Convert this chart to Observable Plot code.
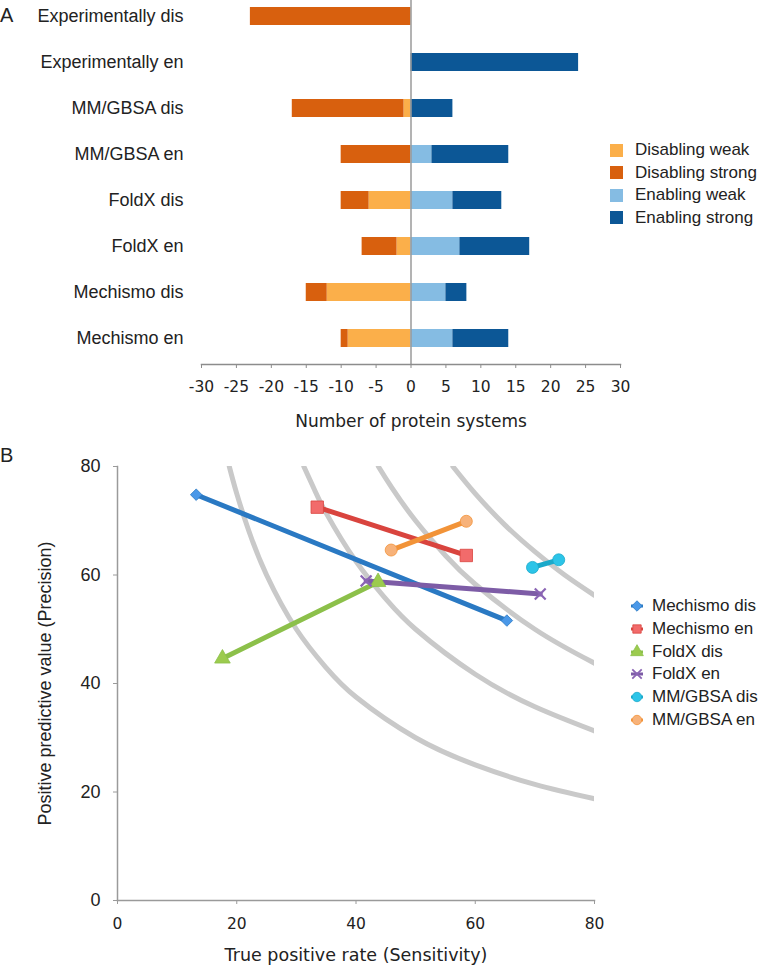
<!DOCTYPE html>
<html><head><meta charset="utf-8">
<script src="https://cdn.jsdelivr.net/npm/d3@7"></script>
<script src="https://cdn.jsdelivr.net/npm/@observablehq/plot@0.6"></script>
<style>
body{margin:0;background:#fff;}
#root{position:relative;width:766px;height:968px;overflow:hidden;font-family:"Liberation Sans",Arial,Helvetica,sans-serif;color:#222;}
.panel{position:absolute;font-size:20px;line-height:1;}
.leg{position:absolute;display:flex;align-items:center;white-space:nowrap;font-size:17px;}
</style></head><body><div id="root"></div>
<script>
// ---------- Panel A data ----------
const categories = ["Experimentally dis","Experimentally en","MM/GBSA dis","MM/GBSA en","FoldX dis","FoldX en","Mechismo dis","Mechismo en"];
const disablingWeak   = [0, 0, 1, 0, 6, 2, 12, 9];
const disablingStrong = [23, 0, 16, 10, 4, 5, 3, 1];
const enablingWeak    = [0, 0, 0, 3, 6, 7, 5, 6];
const enablingStrong  = [0, 24, 6, 11, 7, 10, 3, 8];
const barTypes  = ["Disabling weak","Disabling strong","Enabling weak","Enabling strong"];
const barColors = ["#FBAF4A","#D8600E","#85BCE3","#0C5796"];
const xTicksA = [-30,-25,-20,-15,-10,-5,0,5,10,15,20,25,30];

// ---------- Panel B data ----------
const seriesB = ["Mechismo dis","Mechismo en","FoldX dis","FoldX en","MM/GBSA dis","MM/GBSA en"];
const tprStart = [13.2, 33.5, 17.6, 41.7, 69.6, 45.9];
const ppvStart = [74.8, 72.5, 44.6, 58.9, 61.4, 64.6];
const tprEnd   = [65.3, 58.5, 43.7, 70.9, 74.0, 58.5];
const ppvEnd   = [51.6, 63.6, 58.7, 56.5, 62.8, 69.9];
const lineColorsB   = ["#2A79C3","#D9443E","#8CC04A","#7D5CA6","#1AA9CA","#F29338"];
const markerColorsB = ["#4A98E8","#F26B6B","#9CCB4E","#8A64B4","#2CC4E8","#F7B27A"];
const symbolsB = ["diamond2","square","triangle","times","circle","circle"];
const ticksB = [0,20,40,60,80];
// grey reference curves
const iso1_tpr = [18.75, 20, 22, 25, 30, 35, 40, 50, 60, 70, 80];
const iso1_ppv = [80, 75, 68.2, 60, 50, 42.9, 37.5, 30, 25, 21.4, 18.75];
const iso2_tpr = [31.25, 33, 35, 40, 45, 50, 60, 70, 80];
const iso2_ppv = [80, 75.8, 71.4, 62.5, 55.6, 50, 41.7, 35.7, 31.25];
const iso3_tpr = [43.75, 46, 50, 55, 60, 70, 80];
const iso3_ppv = [80, 76.1, 70, 63.6, 58.3, 50, 43.75];
const iso4_tpr = [56.25, 60, 65, 70, 75, 80];
const iso4_ppv = [80, 75, 69.2, 64.3, 60, 56.25];

const HELV = '"Liberation Sans", Arial, Helvetica, sans-serif';
const VERD = '"DejaVu Sans", Verdana, sans-serif';
const root = document.getElementById("root");

// ---------- Panel A ----------
const barRows = categories.flatMap((c, i) => [
  {cat: c, type: barTypes[0], value: -disablingWeak[i]},
  {cat: c, type: barTypes[1], value: -disablingStrong[i]},
  {cat: c, type: barTypes[2], value: enablingWeak[i]},
  {cat: c, type: barTypes[3], value: enablingStrong[i]}
]);

const plotA = Plot.plot({
  width: 640, height: 440,
  marginLeft: 201, marginRight: 20, marginTop: 0, marginBottom: 76,
  style: {background: "transparent", overflow: "visible", fontFamily: HELV},
  x: {domain: [-30, 30]},
  y: {domain: categories, range: [-8.15, 362.15], paddingInner: 0.6, paddingOuter: 0.3},
  color: {domain: barTypes, range: barColors},
  marks: [
    Plot.barX(barRows, {x: "value", y: "cat", fill: "type"}),
    Plot.ruleX([0], {stroke: "#9a9a9a", strokeWidth: 1.5}),
    Plot.frame({anchor: "bottom", stroke: "#8c8c8c", strokeWidth: 1.5}),
    Plot.axisY({tickSize: 0, tickPadding: 18, fontSize: 18, fontFamily: HELV, fill: "#222", label: null}),
    Plot.axisX({ticks: xTicksA, tickSize: 4, tickPadding: 12, stroke: "#8c8c8c", fill: "#222",
      fontSize: 15.5, fontFamily: VERD, label: null, tickFormat: d => String(d)}),
    Plot.text(["Number of protein systems"], {text: d => d, frameAnchor: "bottom", dy: 57,
      textAnchor: "middle", lineAnchor: "middle", fontSize: 17, fontFamily: VERD, fill: "#222"})
  ]
});
plotA.style.position = "absolute"; plotA.style.left = "0px"; plotA.style.top = "0px";
root.appendChild(plotA);

// Legend A
barTypes.forEach((t, i) => {
  const d = document.createElement("div");
  d.className = "leg";
  d.style.left = "610px"; d.style.top = (150 + i * 22.5 - 10) + "px"; d.style.height = "20px";
  d.innerHTML = `<span style="display:inline-block;width:13px;height:13px;background:${barColors[i]};margin-right:12px"></span>${t}`;
  root.appendChild(d);
});

// ---------- Panel B ----------
const isoRows = [
  ...iso1_tpr.map((r, i) => ({k: 1, r, p: iso1_ppv[i]})),
  ...iso2_tpr.map((r, i) => ({k: 2, r, p: iso2_ppv[i]})),
  ...iso3_tpr.map((r, i) => ({k: 3, r, p: iso3_ppv[i]})),
  ...iso4_tpr.map((r, i) => ({k: 4, r, p: iso4_ppv[i]}))
];
const seriesMarks = [];
seriesB.forEach((s, i) => {
  const pts = [{s, x: tprStart[i], y: ppvStart[i]}, {s, x: tprEnd[i], y: ppvEnd[i]}];
  seriesMarks.push(Plot.line(pts, {x: "x", y: "y", stroke: lineColorsB[i], strokeWidth: 5}));
});
seriesB.forEach((s, i) => {
  const pts = [{s, x: tprStart[i], y: ppvStart[i]}, {s, x: tprEnd[i], y: ppvEnd[i]}];
  const sym = symbolsB[i];
  const rr = sym === "square" ? 7 : sym === "diamond2" ? 5.2 : sym === "triangle" ? 5.8 : sym === "times" ? 5 : 6;
  if (sym === "times") {
    seriesMarks.push(Plot.dot(pts, {x: "x", y: "y", symbol: sym, r: rr, stroke: markerColorsB[i], strokeWidth: 2.2}));
  } else {
    seriesMarks.push(Plot.dot(pts, {x: "x", y: "y", symbol: sym, r: rr, fill: markerColorsB[i], stroke: lineColorsB[i], strokeWidth: 0.8}));
  }
});

const plotB = Plot.plot({
  width: 610, height: 528,
  marginLeft: 117, marginRight: 16, marginTop: 26, marginBottom: 68,
  style: {background: "transparent", overflow: "visible", fontFamily: HELV},
  x: {domain: [0, 80]},
  y: {domain: [0, 80]},
  marks: [
    Plot.line(isoRows, {x: "r", y: "p", z: "k", stroke: "#c9c9c9", strokeWidth: 5, curve: "natural", clip: true}),
    ...seriesMarks,
    Plot.frame({anchor: "left", stroke: "#9a9a9a", strokeWidth: 1.5}),
    Plot.frame({anchor: "bottom", stroke: "#9a9a9a", strokeWidth: 1.5}),
    Plot.axisY({ticks: ticksB, tickSize: 4, tickPadding: 13, stroke: "#9a9a9a", fill: "#222",
      fontSize: 18, fontFamily: HELV, label: null}),
    Plot.axisX({ticks: ticksB, tickSize: 4, tickPadding: 13, stroke: "#9a9a9a", fill: "#222",
      fontSize: 15.5, fontFamily: VERD, label: null}),
    Plot.text(["Positive predictive value (Precision)"], {text: d => d, frameAnchor: "left", dx: -72, rotate: -90,
      textAnchor: "middle", lineAnchor: "middle", fontSize: 18, fontFamily: HELV, fill: "#222"}),
    Plot.text(["True positive rate (Sensitivity)"], {text: d => d, frameAnchor: "bottom", dy: 55,
      textAnchor: "middle", lineAnchor: "middle", fontSize: 17.5, fontFamily: VERD, fill: "#222"})
  ]
});
plotB.style.position = "absolute"; plotB.style.left = "0px"; plotB.style.top = "440px";
root.appendChild(plotB);

// Legend B
const symMap = {diamond2: d3.symbolDiamond2, square: d3.symbolSquare, triangle: d3.symbolTriangle, times: d3.symbolTimes, circle: d3.symbolCircle};
seriesB.forEach((s, i) => {
  const d = document.createElement("div");
  d.className = "leg";
  d.style.left = "627px"; d.style.top = (606 + i * 22.8 - 10) + "px"; d.style.height = "20px";
  const isTimes = symbolsB[i] === "times";
  const path = d3.symbol(symMap[symbolsB[i]], isTimes ? 60 : 70)();
  d.innerHTML = `<svg width="20" height="16" style="margin-right:5px;overflow:visible">
    <line x1="4" x2="16" y1="8" y2="8" stroke="${lineColorsB[i]}" stroke-width="3"/>
    <path d="${path}" transform="translate(10,8)" fill="${isTimes ? 'none' : markerColorsB[i]}" stroke="${isTimes ? markerColorsB[i] : lineColorsB[i]}" stroke-width="${isTimes ? 1.8 : 0.8}"/></svg>${s}`;
  root.appendChild(d);
});

// Panel letters
const la = document.createElement("div"); la.className = "panel"; la.textContent = "A";
la.style.left = "0px"; la.style.top = "5px"; root.appendChild(la);
const lb = document.createElement("div"); lb.className = "panel"; lb.textContent = "B";
lb.style.left = "0px"; lb.style.top = "445px"; root.appendChild(lb);
</script></body></html>
